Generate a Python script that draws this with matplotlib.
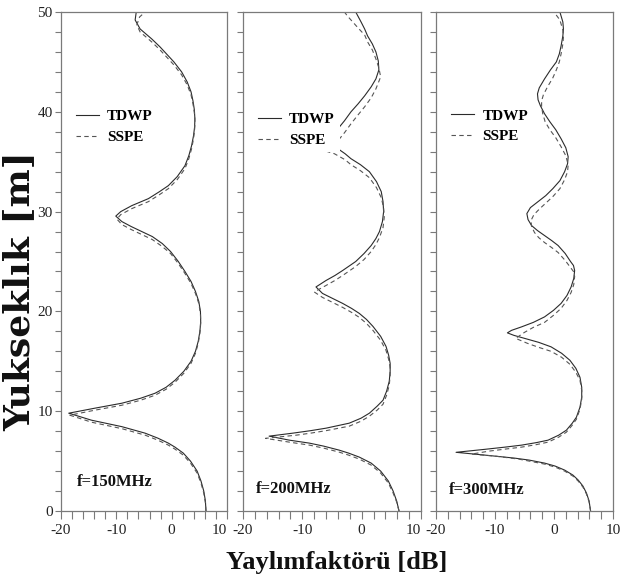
import matplotlib.pyplot as plt
from matplotlib.ticker import MultipleLocator

plt.rcParams['font.family'] = ['Liberation Serif', 'DejaVu Serif']
plt.rcParams['axes.unicode_minus'] = False

# f = 150 MHz
h_tdwp_150 = [0, 1, 2, 3, 4, 5, 5.8, 6.4, 6.8, 7.3,
              7.8, 8.45, 9.1, 9.8, 10.3, 10.8, 11.3, 11.8, 12.4, 13.1,
              14, 15, 16, 17, 18, 19, 20, 21, 22, 23,
              24, 25, 26, 26.8, 27.5, 28.0, 28.5, 29.0, 29.55, 30.0,
              30.6, 31.3, 32, 32.6, 33.5, 34.6, 35.6, 36.6, 37.6, 38.5,
              39.3, 40.2, 41.1, 42.0, 43, 44, 45, 45.6, 46.5, 47.3,
              48.3, 49.2, 50]
x_tdwp_150 = [6.2, 6.1, 5.8, 5.3, 4.6, 3.4, 2.1, 0.6, -0.6, -2.5,
              -4.8, -9.0, -14.5, -18.6, -13.9, -9.0, -5.6, -3.0, -1.0, 0.6,
              2.2, 3.5, 4.3, 4.8, 5.1, 5.25, 5.2, 4.9, 4.3, 3.5,
              2.4, 1.2, -0.2, -1.7, -3.5, -5.4, -7.3, -9.0, -10.1, -9.2,
              -7.2, -4.2, -2.2, -0.6, 1.0, 2.4, 3.1, 3.6, 3.95, 4.15,
              4.2, 4.1, 3.85, 3.5, 2.8, 1.8, 0.4, -0.6, -2.1, -3.6,
              -5.7, -6.6, -6.4]
h_sspe_150 = [0, 0.8, 1.8, 2.8, 3.8, 4.8, 5.6, 6.2, 6.6, 7.1,
              7.6, 8.25, 8.9, 9.6, 10.1, 10.6, 11.1, 11.6, 12.2, 12.9,
              13.8, 14.8, 15.8, 16.8, 17.8, 18.8, 19.8, 20.8, 21.8, 22.8,
              23.8, 24.8, 25.8, 26.5, 27.2, 27.7, 28.2, 28.7, 29.25, 29.7,
              30.3, 31.0, 31.7, 32.3, 33.2, 34.3, 35.3, 36.3, 37.3, 38.2,
              39.0, 39.9, 40.8, 41.7, 42.7, 43.7, 44.7, 45.3, 46.2, 47.0,
              48.0, 48.7, 49.5, 50.0]
x_sspe_150 = [6.2, 6.1, 5.8, 5.3, 4.6, 3.4, 2.1, 0.6, -0.6, -2.5,
              -4.8, -9.0, -14.5, -18.4, -13.9, -9.0, -5.6, -3.0, -1.0, 0.6,
              2.2, 3.5, 4.3, 4.8, 5.1, 5.25, 5.2, 4.9, 4.3, 3.5,
              2.4, 1.2, -0.2, -1.7, -3.5, -5.4, -7.3, -9.0, -9.9, -9.2,
              -7.2, -4.2, -2.2, -0.6, 1.0, 2.4, 3.1, 3.6, 3.95, 4.15,
              4.2, 4.1, 3.85, 3.5, 2.8, 1.8, 0.4, -0.6, -2.1, -3.6,
              -5.7, -6.3, -5.8, -4.8]

# f = 200 MHz
h_tdwp_200 = [0, 1, 2, 3, 4, 4.8, 5.4, 5.8, 6.1, 6.5,
              6.8, 7.1, 7.5, 7.8, 8.05, 8.3, 8.8, 9.3, 9.8, 10.5,
              11.1, 12, 13, 14, 14.8, 15.6, 16.5, 17.5, 18.5, 19.2,
              19.8, 20.3, 20.8, 21.3, 21.8, 22.45, 23.1, 23.6, 24.1, 25.0,
              25.8, 26.6, 27.3, 28.0, 29.0, 30.0, 31.0, 32.0, 33.0, 34.0,
              34.7, 35.3, 35.8, 36.3, 37.3, 38.3, 39.1, 40.0, 40.8, 41.6,
              42.5, 43.3, 44.2, 45.1, 46.0, 46.8, 47.6, 48.3, 49.0, 50.0]
x_tdwp_200 = [6.3, 5.9, 5.3, 4.5, 3.2, 1.6, -0.4, -2.2, -3.8, -6.4,
              -8.8, -12.2, -15.6, -11.6, -8.6, -6.0, -2.1, -0.1, 1.3, 2.6,
              3.6, 4.2, 4.65, 4.8, 4.8, 4.55, 4.1, 3.2, 1.9, 0.8,
              -0.4, -1.7, -3.2, -4.9, -6.6, -7.7, -6.0, -4.5, -3.2, -1.0,
              0.4, 1.6, 2.4, 3.0, 3.5, 3.7, 3.6, 3.3, 2.5, 1.3,
              -0.2, -1.8, -2.8, -4.0, -9.0, -4.0, -2.9, -1.8, -0.6, 0.5,
              1.6, 2.4, 2.9, 2.8, 2.4, 1.8, 1.0, 0.5, -0.1, -1.0]
h_sspe_200 = [0, 0.9, 1.8, 2.8, 3.8, 4.6, 5.2, 5.6, 5.9, 6.3,
              6.6, 6.9, 7.28, 7.6, 7.8, 8.05, 8.5, 9.0, 9.5, 10.1,
              10.7, 11.6, 12.6, 13.6, 14.4, 15.2, 16.1, 17.1, 18.1, 18.8,
              19.4, 19.9, 20.4, 20.9, 21.4, 21.95, 22.6, 23.1, 23.6, 24.5,
              25.2, 26.0, 26.7, 27.4, 28.4, 29.4, 30.4, 31.4, 32.4, 33.4,
              34.1, 34.7, 35.2, 35.8, 36.6, 37.1, 37.9, 38.8, 39.7, 40.5,
              41.4, 42.3, 43.5, 44.4, 45.3, 46.2, 47.0, 47.7, 48.4, 49.6,
              50.0]
x_sspe_200 = [6.3, 5.9, 5.3, 4.5, 3.2, 1.6, -0.4, -2.2, -3.8, -6.4,
              -8.8, -12.2, -16.2, -11.0, -8.6, -6.0, -2.1, -0.1, 1.3, 2.6,
              3.6, 4.2, 4.65, 4.8, 4.8, 4.55, 4.1, 3.2, 1.9, 0.8,
              -0.4, -1.7, -3.2, -4.9, -6.6, -8.0, -6.0, -4.5, -3.2, -1.0,
              0.4, 1.6, 2.4, 3.0, 3.6, 3.8, 3.7, 3.3, 2.5, 1.3,
              -0.2, -1.8, -2.8, -4.6, -9.0, -4.0, -2.9, -1.8, -0.6, 0.5,
              1.6, 2.4, 3.2, 2.9, 2.4, 1.8, 1.0, 0.5, -0.6, -2.4,
              -2.9]

# f = 300 MHz
h_tdwp_300 = [0, 1, 1.8, 2.5, 3.1, 3.6, 4.1, 4.5, 4.8, 5.1,
              5.3, 5.6, 5.88, 6.18, 6.4, 6.6, 6.85, 7.1, 7.6, 8.1,
              8.8, 9.4, 10.4, 11.4, 12.4, 13.4, 14.3, 15.1, 15.8, 16.45,
              16.9, 17.3, 17.6, 17.85, 18.1, 18.45, 18.9, 19.45, 20.1, 20.8,
              21.6, 22.45, 23.3, 24.1, 24.6, 25.0, 25.8, 26.6, 27.1, 27.6,
              28.1, 28.6, 29.2, 29.8, 30.4, 31.0, 31.6, 32.3, 33.1, 34.0,
              34.8, 35.5, 36.4, 37.3, 38.2, 39.0, 39.8, 40.6, 41.2, 41.8,
              42.4, 43.3, 44.2, 45.0, 45.8, 46.6, 47.6, 48.3, 49.0, 50.0]
x_tdwp_300 = [6.2, 5.95, 5.5, 4.9, 4.1, 3.2, 1.8, 0.2, -1.6, -4.2,
              -6.7, -11.7, -16.6, -11.7, -8.3, -5.5, -3.0, -1.0, 0.8, 2.1,
              3.1, 3.8, 4.4, 4.7, 4.7, 4.4, 3.7, 2.7, 1.3, -0.5,
              -2.6, -5.0, -6.8, -7.9, -7.2, -5.5, -3.5, -1.6, -0.1, 1.2,
              2.2, 2.9, 3.35, 3.5, 3.3, 2.8, 1.9, 0.7, -0.4, -1.6,
              -2.8, -3.8, -4.4, -4.6, -4.0, -2.7, -1.4, -0.2, 1.0, 1.8,
              2.3, 2.4, 2.0, 1.2, 0.3, -0.7, -1.6, -2.3, -2.7, -2.8,
              -2.5, -1.6, -0.6, 0.4, 0.9, 1.2, 1.5, 1.6, 1.5, 1.0]
h_sspe_300 = [0, 0.9, 1.7, 2.4, 3.0, 3.5, 4.0, 4.4, 4.7, 5.0,
              5.2, 5.5, 5.7, 6.0, 6.2, 6.4, 6.65, 6.9, 7.4, 7.9,
              8.6, 9.2, 10.2, 11.2, 12.1, 13.1, 13.9, 14.7, 15.4, 16.0,
              16.4, 16.8, 17.3, 17.9, 18.4, 18.9, 19.6, 20.3, 21.1, 21.9,
              22.7, 23.5, 24.0, 24.4, 25.1, 25.9, 26.4, 26.9, 27.4, 27.9,
              28.5, 29.1, 29.7, 30.3, 30.9, 31.5, 32.3, 33.2, 34.0, 34.7,
              35.6, 36.5, 37.4, 38.2, 39.0, 39.8, 40.5, 41.1, 41.7, 42.5,
              43.4, 44.2, 45.0, 45.8, 46.8, 47.5, 48.2, 49.2, 50.0]
x_sspe_300 = [6.2, 5.95, 5.5, 4.9, 4.1, 3.2, 1.8, 0.2, -1.6, -4.2,
              -6.0, -10.0, -14.0, -11.0, -8.3, -5.5, -3.0, -1.0, 0.8, 2.1,
              3.1, 3.8, 4.4, 4.7, 4.7, 4.4, 3.7, 2.7, 1.3, -0.5,
              -2.6, -4.5, -6.5, -5.0, -3.5, -1.6, -0.1, 1.2, 2.2, 2.9,
              3.35, 3.5, 3.3, 2.8, 1.9, 0.7, -0.4, -1.6, -2.6, -3.3,
              -3.8, -3.9, -3.4, -2.4, -1.3, -0.2, 1.0, 1.8, 2.3, 2.4,
              2.0, 1.2, 0.3, -0.7, -1.5, -1.9, -2.1, -2.1, -1.8, -1.1,
              -0.2, 0.4, 0.9, 1.2, 1.5, 1.6, 1.5, 1.0, 0.0]

series_names = ['TDWP', 'SSPE']
freq_labels = ['f=150MHz', 'f=200MHz', 'f=300MHz']
x_ticks = [-20, -10, 0, 10]
x_ticklabels = ['-20', '-10', '0', '10']
y_ticks = [0, 10, 20, 30, 40, 50]

tdwp = [(x_tdwp_150, h_tdwp_150), (x_tdwp_200, h_tdwp_200), (x_tdwp_300, h_tdwp_300)]
sspe = [(x_sspe_150, h_sspe_150), (x_sspe_200, h_sspe_200), (x_sspe_300, h_sspe_300)]

W, H = 627, 581
fig = plt.figure(figsize=(W / 100, H / 100), dpi=100)

# panel boxes in pixels: left, right
boxes = [(61, 227), (243, 421), (436, 613)]
top_px, bottom_px = 12, 511
legend_anchor = [(0.056, 0.77), (0.052, 0.764), (0.056, 0.771)]
freq_pos = [(-17.2, 2.9), (-17.8, 2.2), (-17.8, 2.1)]

spine_col = '#7a7a7a'
for i in range(3):
    l, r = boxes[i]
    ax = fig.add_axes([l / W, 1 - bottom_px / H, (r - l) / W, (bottom_px - top_px) / H])
    ax.plot(tdwp[i][0], tdwp[i][1], color='#2b2b2b', linewidth=0.8, label=series_names[0])
    ax.plot(sspe[i][0], sspe[i][1], color='#555555', linewidth=0.8,
            linestyle=(0, (4, 3)), label=series_names[1])
    ax.set_xlim(-20, 10)
    ax.set_ylim(0, 50)
    ax.set_xticks(x_ticks, labels=x_ticklabels)
    ax.set_yticks(y_ticks)
    ax.xaxis.set_minor_locator(MultipleLocator(2))
    ax.yaxis.set_minor_locator(MultipleLocator(2))
    ax.tick_params(axis='x', which='both', direction='out', length=6, width=0.8,
                   color=spine_col, labelsize=11, pad=3, labelcolor='#222222')
    ax.tick_params(axis='y', which='both', direction='out', length=4, width=0.8,
                   color=spine_col, labelsize=11, pad=2, labelcolor='#222222')
    if i > 0:
        ax.set_yticklabels([])
    if i < 2:
        # last label sits next to the neighbour's "-20"
        ax.get_xticklabels()[-1].set_horizontalalignment('right')
    for s in ax.spines.values():
        s.set_color(spine_col)
        s.set_linewidth(0.9)

    ax.legend(loc='center left', bbox_to_anchor=legend_anchor[i], borderaxespad=0,
              frameon=True, fancybox=False, framealpha=1, facecolor='white',
              edgecolor='none', handlelength=1.5, handletextpad=0.55,
              labelspacing=0.45, borderpad=0.35,
              prop={'weight': 'bold', 'size': 11})
    ax.text(freq_pos[i][0], freq_pos[i][1], freq_labels[i], fontsize=12, fontweight='bold',
            ha='left', va='center', color='#111111')

fig.text(19 / W, 1 - 291 / H, 'Yukseklık [m]', rotation=90, ha='center', va='center',
         fontsize=26, fontweight='bold', family='DejaVu Serif', color='#111111')
fig.text(337 / W, 1 - 562 / H, 'Yaylımfaktörü [dB]', ha='center', va='center',
         fontsize=19, fontweight='bold', color='#111111')

fig.savefig('out.png', dpi=100)
